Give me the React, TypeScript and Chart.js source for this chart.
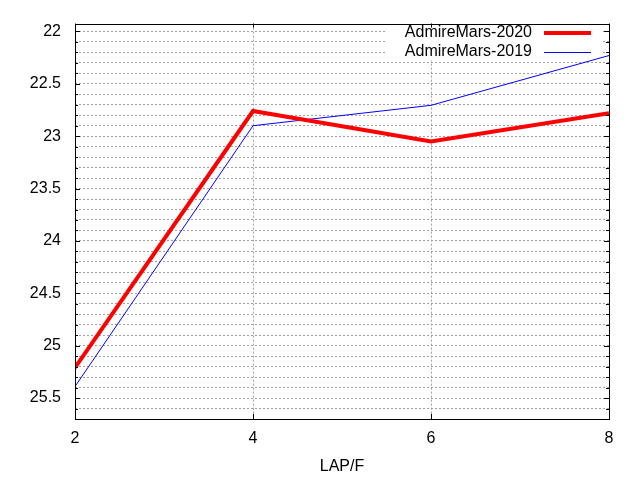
import React, { useEffect, useRef } from "react";
import { Chart, registerables } from "chart.js";

Chart.register(...registerables);

const xValues = [2, 4, 6, 8];
const series2020 = [25.21, 22.76, 23.05, 22.78];
const series2019 = [25.39, 22.9, 22.705, 22.23];
const seriesNames = ["AdmireMars-2020", "AdmireMars-2019"];
const xTickValues = [2, 4, 6, 8];
const yMajorTicks = [22, 22.5, 23, 23.5, 24, 24.5, 25, 25.5];
const yMinorStep = 0.1;
const yMin = 21.925;
const yMax = 25.7;
const xTitle = "LAP/F";

const FONT = "'Liberation Sans', Arial, sans-serif";

const isMajor = (v: number) => yMajorTicks.some((m) => Math.abs(m - v) < 1e-6);

const framePlugin = {
  id: "gnuFrame",
  beforeDatasetsDraw(chart: any) {
    const { ctx, chartArea } = chart;
    ctx.save();
    ctx.fillStyle = "#ffffff";
    ctx.fillRect(385, chartArea.top + 1, 216, 36);
    ctx.restore();
  },
  afterDraw(chart: any) {
    const { ctx, chartArea, scales } = chart;
    const { left, right, top, bottom } = chartArea;
    ctx.save();
    ctx.strokeStyle = "#000000";
    ctx.lineWidth = 1;
    scales.y.ticks.forEach((t: any) => {
      const py = Math.round(scales.y.getPixelForValue(t.value)) + 0.5;
      const len = isMajor(t.value) ? 5 : 3;
      ctx.beginPath();
      ctx.moveTo(left, py);
      ctx.lineTo(left + len, py);
      ctx.moveTo(right, py);
      ctx.lineTo(right - len, py);
      ctx.stroke();
    });
    xTickValues.forEach((v) => {
      const px = Math.round(scales.x.getPixelForValue(v)) + 0.5;
      ctx.beginPath();
      ctx.moveTo(px, bottom);
      ctx.lineTo(px, bottom - 5);
      ctx.moveTo(px, top);
      ctx.lineTo(px, top + 4);
      ctx.stroke();
    });
    ctx.strokeRect(Math.round(left) + 0.5, Math.round(top) + 0.5, Math.round(right - left), Math.round(bottom - top));

    ctx.font = `16px ${FONT}`;
    ctx.textAlign = "right";
    ctx.textBaseline = "alphabetic";
    const rows = [
      { name: seriesNames[0], color: "#ff0000", width: 4, ty: 37, ly: 33 },
      { name: seriesNames[1], color: "#0000ff", width: 1, ty: 56, ly: 52.5 },
    ];
    rows.forEach((r) => {
      ctx.fillStyle = "#000000";
      ctx.fillText(r.name, 532, r.ty);
      ctx.strokeStyle = r.color;
      ctx.lineWidth = r.width;
      ctx.beginPath();
      ctx.moveTo(544, r.ly);
      ctx.lineTo(591, r.ly);
      ctx.stroke();
    });
    ctx.restore();
  },
};

export default function App() {
  const ref = useRef<HTMLCanvasElement | null>(null);
  useEffect(() => {
    document.body.style.margin = "0";
    if (!ref.current) return;
    const chart = new Chart(ref.current, {
      type: "line",
      data: {
        datasets: [
          {
            label: seriesNames[0],
            data: xValues.map((x, i) => ({ x, y: series2020[i] })),
            borderColor: "#ff0000",
            borderWidth: 4,
            pointRadius: 0,
            fill: false,
            tension: 0,
          },
          {
            label: seriesNames[1],
            data: xValues.map((x, i) => ({ x, y: series2019[i] })),
            borderColor: "#0000ff",
            borderWidth: 1,
            pointRadius: 0,
            fill: false,
            tension: 0,
          },
        ],
      },
      options: {
        animation: false,
        responsive: false,
        devicePixelRatio: 1,
        layout: { padding: { top: 19, right: 31, left: 0, bottom: 0 } },
        plugins: { legend: { display: false }, tooltip: { enabled: false } },
        scales: {
          x: {
            type: "linear",
            min: 2,
            max: 8,
            afterBuildTicks: (s: any) => {
              s.ticks = xTickValues.map((v) => ({ value: v }));
            },
            afterFit: (s: any) => {
              s.height = 61;
            },
            ticks: {
              color: "#000000",
              font: { family: FONT, size: 16 },
              padding: 10,
              maxRotation: 0,
            },
            grid: {
              color: "#a0a0a0",
              lineWidth: 1,
              drawTicks: false,
            },
            border: { display: false, dash: [2, 2] },
            title: {
              display: true,
              text: xTitle,
              color: "#000000",
              font: { family: FONT, size: 16 },
              padding: { top: 0, bottom: 4 },
            },
          },
          y: {
            type: "linear",
            reverse: true,
            min: yMin,
            max: yMax,
            afterBuildTicks: (s: any) => {
              const t: any[] = [];
              for (let v = 22; v <= yMax + 1e-6; v += yMinorStep) {
                t.push({ value: Math.round(v * 10) / 10 });
              }
              s.ticks = t;
            },
            afterFit: (s: any) => {
              s.width = 75;
            },
            ticks: {
              color: "#000000",
              font: { family: FONT, size: 16 },
              padding: 14,
              autoSkip: false,
              callback: (v: any) => (isMajor(Number(v)) ? String(Number(v)) : ""),
            },
            grid: {
              color: "#a0a0a0",
              lineWidth: 1,
              drawTicks: false,
            },
            border: { display: false, dash: [2, 2] },
          },
        },
      },
      plugins: [framePlugin],
    } as any);
    return () => chart.destroy();
  }, []);
  return (
    <div style={{ position: "fixed", left: 0, top: 0, width: 640, height: 480, background: "#fff" }}>
      <canvas ref={ref} width={640} height={480} style={{ width: 640, height: 480 }} />
    </div>
  );
}
